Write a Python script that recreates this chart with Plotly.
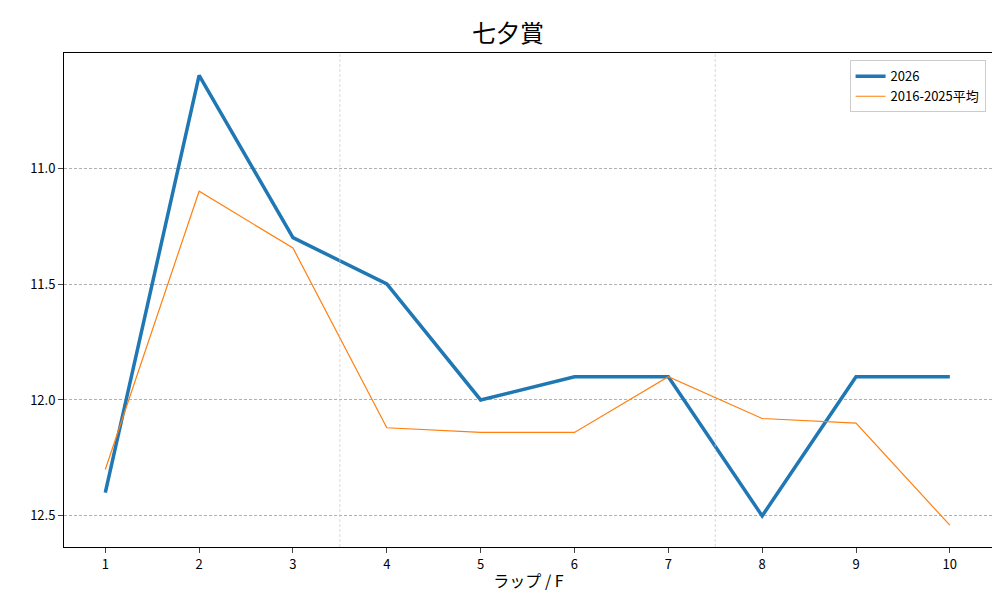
import plotly.graph_objects as go

laps = [1, 2, 3, 4, 5, 6, 7, 8, 9, 10]
y2026 = [12.4, 10.6, 11.3, 11.5, 12.0, 11.9, 11.9, 12.5, 11.9, 11.9]
yavg = [12.3, 11.1, 11.345, 12.12, 12.14, 12.14, 11.9, 12.08, 12.1, 12.54]
yticks = [11.0, 11.5, 12.0, 12.5]
vlines = [3.5, 7.5]

font = "Noto Sans CJK JP"
fig = go.Figure()
fig.add_trace(go.Scatter(x=laps, y=y2026, mode="lines", name="2026",
                         line=dict(color="#1f77b4", width=3.5)))
fig.add_trace(go.Scatter(x=laps, y=yavg, mode="lines", name="2016-2025平均",
                         line=dict(color="#ff7f0e", width=1.2)))
for v in vlines:
    fig.add_vline(x=v, line=dict(color="#c8c8c8", width=0.7, dash="3px,2px"))
fig.update_layout(
    width=1000, height=600, plot_bgcolor="white", paper_bgcolor="white",
    margin=dict(l=56, r=15, t=45, b=61),
    font=dict(family=font, size=13, color="black"),
    title=dict(text="七夕賞", x=0.5, xanchor="center", y=0.958, yanchor="middle",
               font=dict(size=24), automargin=False),
    legend=dict(x=0.992, y=0.985, xanchor="right", yanchor="top",
                bordercolor="#cccccc", borderwidth=1, bgcolor="white"),
    xaxis=dict(range=[0.56, 10.46], tickvals=laps, showgrid=False, automargin=False,
               showline=True, mirror=True, linecolor="black", ticks="outside",
               title=dict(text="ラップ / F", standoff=4)),
    yaxis=dict(range=[12.634, 10.504], tickvals=yticks, automargin=False,
               tickformat=".1f", showgrid=True, gridcolor="#b0b0b0",
               griddash="3px,2px", gridwidth=0.7, zeroline=False,
               showline=True, mirror=True, linecolor="black", ticks="outside"),
)
fig.write_html("out.html")
